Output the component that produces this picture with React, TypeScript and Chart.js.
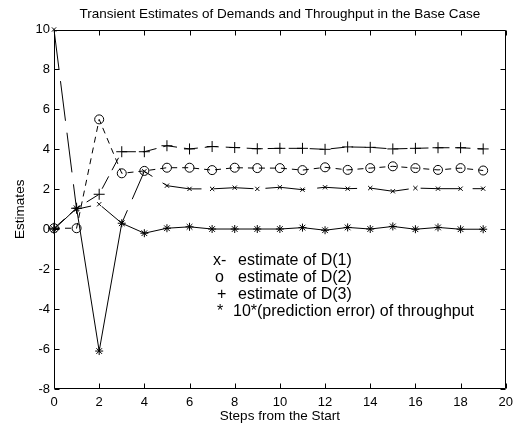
import React, { useEffect, useRef } from "react";
import { Chart, registerables } from "chart.js";

Chart.register(...registerables);

const FONT = "'Liberation Sans', Arial, Helvetica, sans-serif";

const chartTitle = "Transient Estimates of Demands and Throughput in the Base Case";
const xTitle = "Steps from the Start";
const yTitle = "Estimates";

const steps = [0, 1, 2, 3, 4, 5, 6, 7, 8, 9, 10, 11, 12, 13, 14, 15, 16, 17, 18, 19];

const estD1 = [10, 1.0, 1.25, 0.3, 2.9, 2.18, 2.02, 2.02, 2.08, 2.02, 2.1, 1.98, 2.1, 2.03, 2.06, 1.9, 2.06, 2.03, 2.03, 2.03];
const estD2 = [0.05, 0.05, 5.5, 2.8, 2.92, 3.08, 3.08, 2.96, 3.08, 3.06, 3.06, 2.96, 3.1, 2.97, 3.06, 3.15, 3.06, 2.97, 3.06, 2.94];
const estD3 = [0.05, 1.05, 1.75, 3.88, 3.88, 4.18, 4.02, 4.14, 4.09, 4.03, 4.05, 4.05, 4.0, 4.12, 4.1, 4.02, 4.05, 4.08, 4.08, 4.02];
const predErr = [0, 1.05, -6.1, 0.3, -0.2, 0.05, 0.12, 0.01, 0.01, 0.01, 0.01, 0.08, -0.05, 0.09, 0.01, 0.14, 0.0, 0.09, 0.0, 0.0];

const legendSymbols = ["x-", "o", "+", "*"];
const legendTexts = [
  "estimate of D(1)",
  "estimate of D(2)",
  "estimate of D(3)",
  "10*(prediction error) of throughput",
];

const xMin = 0;
const xMax = 20;
const yMin = -8;
const yMax = 10;
const tickStep = 2;

function pts(values: number[]) {
  return values.map((v, i) => ({ x: steps[i], y: v }));
}

const framePlugin = {
  id: "matlabFrame",
  beforeDatasetsDraw(chart: any) {
    const { ctx, chartArea, scales } = chart;
    const l = Math.round(chartArea.left) + 0.5;
    const r = Math.round(chartArea.right) - 0.5;
    const t = Math.round(chartArea.top) + 0.5;
    const b = Math.round(chartArea.bottom) - 0.5;
    ctx.save();
    ctx.strokeStyle = "#000";
    ctx.lineWidth = 1;
    ctx.beginPath();
    ctx.rect(l, t, r - l, b - t);
    ctx.stroke();
    const len = 5;
    ctx.beginPath();
    for (const tk of scales.x.ticks) {
      const px = Math.round(scales.x.getPixelForValue(tk.value)) + 0.5;
      ctx.moveTo(px, b);
      ctx.lineTo(px, b - len);
      ctx.moveTo(px, t);
      ctx.lineTo(px, t + len);
    }
    for (const tk of scales.y.ticks) {
      const py = Math.round(scales.y.getPixelForValue(tk.value)) + 0.5;
      ctx.moveTo(l, py);
      ctx.lineTo(l + len, py);
      ctx.moveTo(r, py);
      ctx.lineTo(r - len, py);
    }
    ctx.stroke();
    ctx.restore();
  },
  afterDraw(chart: any) {
    const { ctx, chartArea } = chart;
    ctx.save();
    ctx.fillStyle = "#000";
    ctx.textBaseline = "middle";
    ctx.font = "13.5px " + FONT;
    ctx.textAlign = "center";
    ctx.fillText(chartTitle, (chartArea.left + chartArea.right) / 2, 14.5);
    ctx.font = "16px " + FONT;
    ctx.textAlign = "left";
    const symX = [159, 161, 163, 163];
    const txtX = [184, 184, 184, 179];
    const rowY = [231, 248, 265, 282];
    for (let i = 0; i < legendTexts.length; i++) {
      ctx.fillText(legendSymbols[i], chartArea.left + symX[i], chartArea.top + rowY[i]);
      ctx.fillText(legendTexts[i], chartArea.left + txtX[i], chartArea.top + rowY[i]);
    }
    ctx.restore();
  },
};

export default function App() {
  const ref = useRef<HTMLCanvasElement>(null);
  useEffect(() => {
    document.body.style.margin = "0";
    const common = {
      borderColor: "#000",
      pointBorderColor: "#000",
      pointBackgroundColor: "rgba(0,0,0,0)",
      backgroundColor: "rgba(0,0,0,0)",
      borderWidth: 1,
      pointBorderWidth: 1,
      tension: 0,
      fill: false,
      clip: false as any,
    };
    const chart = new Chart(ref.current as HTMLCanvasElement, {
      type: "line",
      data: {
        datasets: [
          { ...common, label: "estimate of D(1)", data: pts(estD1), pointStyle: "crossRot", pointRadius: 3, borderDash: [40, 12] },
          { ...common, label: "estimate of D(2)", data: pts(estD2), pointStyle: "circle", pointRadius: 4.5, borderDash: [6, 5] },
          { ...common, label: "estimate of D(3)", data: pts(estD3), pointStyle: "cross", pointRadius: 5.5, borderDash: [14, 7] },
          { ...common, label: "10*(prediction error) of throughput", data: pts(predErr), pointStyle: "star", pointRadius: 4 },
        ] as any,
      },
      plugins: [framePlugin],
      options: {
        responsive: false,
        animation: false,
        events: [],
        layout: { padding: { left: 0, right: 11, top: 29.5, bottom: 0 } },
        plugins: {
          legend: { display: false },
          tooltip: { enabled: false },
          title: { display: false },
        },
        scales: {
          x: {
            type: "linear",
            min: xMin,
            max: xMax,
            ticks: { stepSize: tickStep, color: "#000", font: { family: FONT, size: 13 }, padding: 6, maxRotation: 0, autoSkip: false },
            grid: { display: false, drawTicks: false },
            border: { display: false },
            title: {
              display: true,
              text: xTitle,
              color: "#000",
              font: { family: FONT, size: 13.5, lineHeight: 1 },
              padding: { top: 0, bottom: 0 },
            },
            afterFit: (s: any) => {
              s.height = 34;
            },
          },
          y: {
            type: "linear",
            min: yMin,
            max: yMax,
            ticks: { stepSize: tickStep, color: "#000", font: { family: FONT, size: 13 }, padding: 4, autoSkip: false },
            grid: { display: false, drawTicks: false },
            border: { display: false },
            title: {
              display: true,
              text: yTitle,
              color: "#000",
              font: { family: FONT, size: 13.5, lineHeight: 1 },
              padding: { top: 14, bottom: 0 },
            },
            afterFit: (s: any) => {
              s.width = 54;
            },
          },
        },
      } as any,
    });
    return () => chart.destroy();
  }, []);
  return (
    <div style={{ position: "absolute", left: 0, top: 0, width: 519, height: 423, background: "#fff" }}>
      <canvas ref={ref} width={519} height={423} style={{ display: "block" }} />
    </div>
  );
}
